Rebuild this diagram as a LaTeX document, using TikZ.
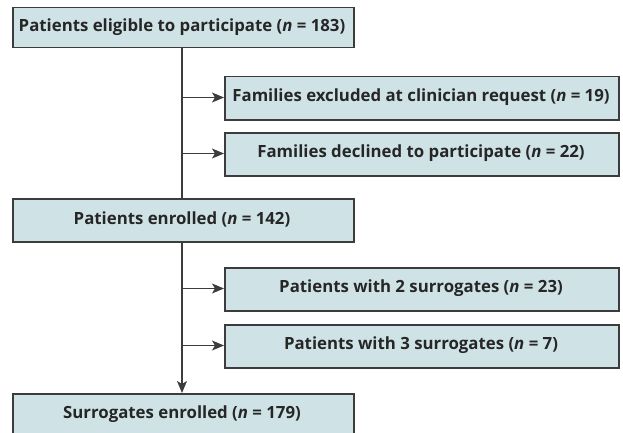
\documentclass[tikz,border=0pt]{standalone}
\usepackage{fontspec}
\setmainfont{Open Sans}
\usetikzlibrary{arrows.meta}
\definecolor{boxfill}{RGB}{207,227,231}
\definecolor{edge}{RGB}{60,60,60}
\tikzset{
  flowbox/.style={draw=edge, fill=boxfill, line width=1.5pt, rectangle, inner sep=0pt, anchor=north west},
  conn/.style={draw=edge, line width=1.4pt, -{Stealth[length=12pt,width=10pt,inset=3pt]}},
  lbl/.style={font=\fontsize{16.8}{19}\selectfont\bfseries, text=black!85}
}
\begin{document}
\begin{tikzpicture}[x=1pt,y=-1pt]
\useasboundingbox (0,0) rectangle (623,433);
\clip (0,0) rectangle (623,433);
% left boxes
\node[flowbox, minimum width=341pt, minimum height=40pt] (b1) at (12,7) {};
\node[lbl] (t1) at (182,27) {Patients eligible to participate (\textit{n} = 183)};
\node[flowbox, minimum width=341pt, minimum height=43pt] (b4) at (12,198) {};
\node[lbl] (t4) at (182,219.5) {Patients enrolled (\textit{n} = 142)};
\node[flowbox, minimum width=341pt, minimum height=60pt] (b7) at (12,393) {};
\node[lbl] (t7) at (182,414.5) {Surrogates enrolled (\textit{n} = 179)};
% right boxes
\node[flowbox, minimum width=394pt, minimum height=43pt] (b2) at (224,76) {};
\node[lbl] (t2) at (421,97.5) {Families excluded at clinician request (\textit{n} = 19)};
\node[flowbox, minimum width=394pt, minimum height=43pt] (b3) at (224,132) {};
\node[lbl] (t3) at (421,153.5) {Families declined to participate (\textit{n} = 22)};
\node[flowbox, minimum width=394pt, minimum height=43pt] (b5) at (224,267) {};
\node[lbl] (t5) at (421,288.5) {Patients with 2 surrogates (\textit{n} = 23)};
\node[flowbox, minimum width=394pt, minimum height=43pt] (b6) at (224,324) {};
\node[lbl] (t6) at (421,345.5) {Patients with 3 surrogates (\textit{n} = 7)};
% connectors
\coordinate (j2) at (182,97.5);
\coordinate (j3) at (182,153.5);
\coordinate (j5) at (182,288.5);
\coordinate (j6) at (182,345.5);
\draw[draw=edge, line width=1.4pt] (b1.south -| j2) -- (b4.north -| j2);
\draw[conn] (b4.south -| j2) -- (b7.north -| j2);
\draw[conn] (j2) -- (b2.west |- j2);
\draw[conn] (j3) -- (b3.west |- j3);
\draw[conn] (j5) -- (b5.west |- j5);
\draw[conn] (j6) -- (b6.west |- j6);
\end{tikzpicture}
\end{document}
